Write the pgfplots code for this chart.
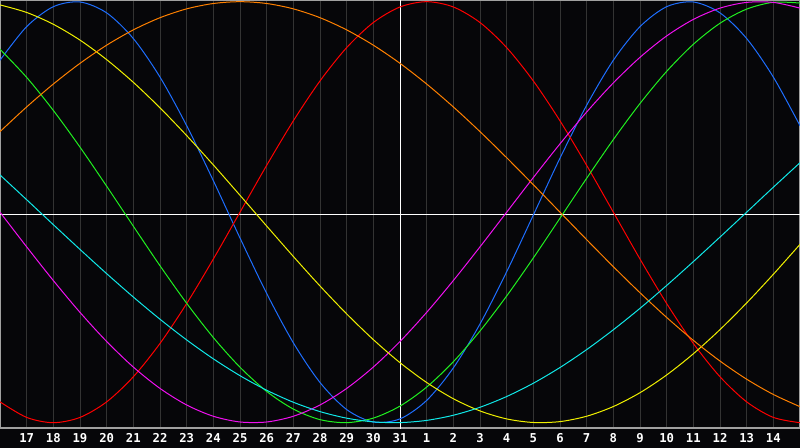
\documentclass[border=0pt]{standalone}
\usepackage{pgfplots}
\pgfplotsset{compat=1.18}
\usepackage{fontspec}
\setmainfont{DejaVu Sans Mono}
\definecolor{bg}{HTML}{060609}
\definecolor{framegray}{HTML}{A0A0A0}
\definecolor{gridgray}{HTML}{333333}
\definecolor{cred}{HTML}{FF0000}
\definecolor{cblue}{HTML}{1E6EFF}
\definecolor{cgreen}{HTML}{20F020}
\definecolor{cyellow}{HTML}{F0F000}
\definecolor{corange}{HTML}{FF8000}
\definecolor{ccyan}{HTML}{10E8E8}
\definecolor{cmagenta}{HTML}{F010F0}
\begin{document}
\begin{tikzpicture}
\useasboundingbox (0,0) rectangle (800bp,448bp);
\fill[bg] (0,0) rectangle (800bp,448bp);
\begin{axis}[
  at={(0,20bp)}, anchor=south west,
  scale only axis, width=800bp, height=428bp,
  xmin=0, xmax=30, ymin=-1.0252, ymax=1.008,
  axis line style={draw=framegray, line width=1.5bp},
  xtick={1,2,...,29},
  xticklabels={17,18,19,20,21,22,23,24,25,26,27,28,29,30,31,1,2,3,4,5,6,7,8,9,10,11,12,13,14},
  ytick=\empty,
  major tick length=0pt,
  xmajorgrids, major grid style={gridgray, line width=1bp},
  xticklabel style={anchor=center, yshift=-10bp, font=\fontsize{12.3}{13}\selectfont\bfseries, text=white},
  every axis plot/.append style={line width=1bp, no markers},
]
% reference lines
\addplot[white, line width=1bp] coordinates {(15,-1.03) (15,1.01)};
\addplot[white, line width=1bp] coordinates {(0,-0.01) (30,-0.01)};
% physical 23 (blue)
\addplot[cblue, smooth] coordinates {
(0,0.7217)(1,0.8815)(2,0.9762)(3,0.9985)(4,0.9468)(5,0.8249)(6,0.6417)(7,0.4109)(8,0.1497)(9,-0.1226)
(10,-0.3859)(11,-0.6204)(12,-0.8090)(13,-0.9376)(14,-0.9967)(15,-0.9818)(16,-0.8941)(17,-0.7398)(18,-0.5310)(19,-0.2829)
(20,-0.0136)(21,0.2568)(22,0.5080)(23,0.7217)(24,0.8815)(25,0.9762)(26,0.9985)(27,0.9468)(28,0.8249)(29,0.6417)(30,0.4109)};
% emotional 28 (red)
\addplot[cred, smooth] coordinates {
(0,-0.9010)(1,-0.9749)(2,-1)(3,-0.9749)(4,-0.9010)(5,-0.7818)(6,-0.6235)(7,-0.4339)(8,-0.2225)(9,0)
(10,0.2225)(11,0.4339)(12,0.6235)(13,0.7818)(14,0.9010)(15,0.9749)(16,1)(17,0.9749)(18,0.9010)(19,0.7818)
(20,0.6235)(21,0.4339)(22,0.2225)(23,0)(24,-0.2225)(25,-0.4339)(26,-0.6235)(27,-0.7818)(28,-0.9010)(29,-0.9749)(30,-1)};
% intellectual 33 (green)
\addplot[cgreen, smooth] coordinates {
(0,0.7741)(1,0.6404)(2,0.4834)(3,0.3090)(4,0.1234)(5,-0.0666)(6,-0.2543)(7,-0.4327)(8,-0.5955)(9,-0.7365)
(10,-0.8514)(11,-0.9353)(12,-0.9854)(13,-0.9998)(14,-0.9781)(15,-0.9211)(16,-0.8308)(17,-0.7104)(18,-0.5644)(19,-0.3980)
(20,-0.2173)(21,-0.0286)(22,0.1611)(23,0.3450)(24,0.5164)(25,0.6691)(26,0.7976)(27,0.8975)(28,0.9647)(29,0.9971)(30,0.9935)};
% intuitive 38 (magenta)
\addplot[cmagenta, smooth] coordinates {
(0,0)(1,-0.1646)(2,-0.3247)(3,-0.4759)(4,-0.6142)(5,-0.7357)(6,-0.8372)(7,-0.9158)(8,-0.9694)(9,-0.9966)
(10,-0.9966)(11,-0.9694)(12,-0.9158)(13,-0.8372)(14,-0.7357)(15,-0.6142)(16,-0.4759)(17,-0.3247)(18,-0.1646)(19,0)
(20,0.1646)(21,0.3247)(22,0.4759)(23,0.6142)(24,0.7357)(25,0.8372)(26,0.9158)(27,0.9694)(28,0.9966)(29,0.9966)(30,0.9694)};
% aesthetic 43 (yellow)
\addplot[cyellow, smooth] coordinates {
(0,0.9847)(1,0.9488)(2,0.8926)(3,0.8175)(4,0.7247)(5,0.6169)(6,0.4958)(7,0.3640)(8,0.2245)(9,0.0802)
(10,-0.0658)(11,-0.2103)(12,-0.3505)(13,-0.4831)(14,-0.6054)(15,-0.7149)(16,-0.8090)(17,-0.8861)(18,-0.9441)(19,-0.9820)
(20,-0.9990)(21,-0.9948)(22,-0.9693)(23,-0.9232)(24,-0.8575)(25,-0.7733)(26,-0.6726)(27,-0.5577)(28,-0.4310)(29,-0.2950)(30,-0.1527)};
% awareness 48 (orange)
\addplot[corange, smooth] coordinates {
(0,0.3827)(1,0.5)(2,0.6088)(3,0.7071)(4,0.7934)(5,0.8660)(6,0.9239)(7,0.9659)(8,0.9914)(9,1)
(10,0.9914)(11,0.9659)(12,0.9239)(13,0.8660)(14,0.7934)(15,0.7071)(16,0.6088)(17,0.5)(18,0.3827)(19,0.2588)
(20,0.1305)(21,0)(22,-0.1305)(23,-0.2588)(24,-0.3827)(25,-0.5)(26,-0.6088)(27,-0.7071)(28,-0.7934)(29,-0.8660)(30,-0.9239)};
% spiritual 53 (cyan)
\addplot[ccyan, smooth] coordinates {
(0,0.1769)(1,0.0593)(2,-0.0593)(3,-0.1769)(4,-0.2920)(5,-0.4031)(6,-0.5085)(7,-0.6068)(8,-0.6966)(9,-0.7766)
(10,-0.8457)(11,-0.9028)(12,-0.9473)(13,-0.9785)(14,-0.9961)(15,-0.9996)(16,-0.9890)(17,-0.9646)(18,-0.9267)(19,-0.8757)
(20,-0.8125)(21,-0.7378)(22,-0.6527)(23,-0.5585)(24,-0.4567)(25,-0.3481)(26,-0.2348)(27,-0.1182)(28,0)(29,0.1186)(30,0.2351)};
\end{axis}
\end{tikzpicture}
\end{document}
